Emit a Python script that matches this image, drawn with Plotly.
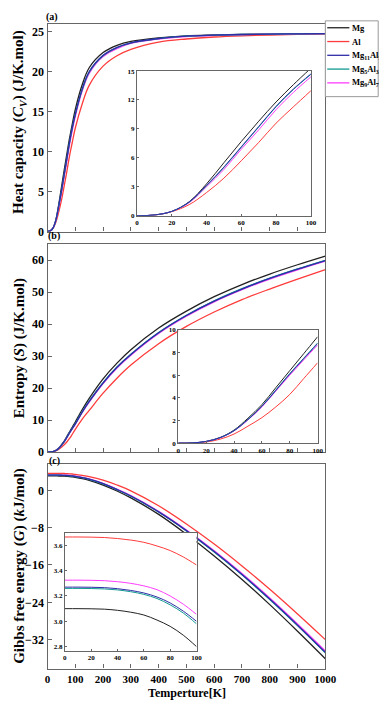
import plotly.graph_objects as go

# ---------------- data ----------------
T = [0, 10, 20, 30, 40, 50, 60, 70, 80, 90, 100, 125, 150, 200, 250, 300, 400, 500, 600, 700, 800, 900, 1000]

series_names = ["Mg", "Al", "Mg<sub>11</sub>Al<sub>5</sub>", "Mg<sub>5</sub>Al<sub>3</sub>", "Mg<sub>9</sub>Al<sub>7</sub>"]
series_colors = ["#222222", "#ff3b3b", "#2e2ea8", "#119a90", "#ff3dff"]

cv_mg = [0, 0.08, 0.45, 1.45, 3.3, 5.5, 7.7, 9.8, 11.8, 13.6, 15.3, 18.4, 20.5, 22.4, 23.3, 23.8, 24.25, 24.5, 24.6, 24.68, 24.72, 24.75, 24.78]
cv_al = [0, 0.07, 0.42, 1.15, 2.4, 3.9, 5.7, 7.6, 9.6, 11.3, 12.96, 16.0, 18.3, 20.7, 22.0, 22.8, 23.7, 24.1, 24.35, 24.5, 24.6, 24.68, 24.75]
cv_mg11al5 = [0, 0.08, 0.45, 1.42, 3.15, 5.05, 7.15, 9.25, 11.35, 13.15, 14.7, 17.85, 20.0, 22.05, 23.05, 23.62, 24.16, 24.46, 24.58, 24.66, 24.71, 24.74, 24.77]
cv_mg5al3 = [0, 0.08, 0.45, 1.4, 3.1, 5.0, 7.1, 9.2, 11.3, 13.1, 14.66, 17.8, 19.95, 22.0, 23.0, 23.6, 24.15, 24.45, 24.58, 24.66, 24.71, 24.74, 24.77]
cv_mg9al7 = [0, 0.08, 0.45, 1.35, 3.0, 4.8, 6.9, 8.9, 11.0, 12.8, 14.4, 17.6, 19.8, 21.9, 22.9, 23.55, 24.1, 24.4, 24.55, 24.64, 24.7, 24.73, 24.77]

s_mg = [0, 0.02, 0.15, 0.5, 1.15, 2.2, 3.4, 4.9, 6.4, 7.9, 9.4, 13.3, 16.8, 22.9, 27.8, 32.0, 38.8, 44.1, 48.6, 52.4, 55.7, 58.6, 61.3]
s_al = [0, 0.02, 0.1, 0.35, 0.8, 1.5, 2.25, 3.2, 4.3, 5.7, 7.1, 10.3, 13.0, 18.4, 23.1, 27.2, 33.9, 39.3, 43.8, 47.7, 51.0, 54.1, 57.1]
s_mg11al5 = [0, 0.02, 0.15, 0.48, 1.1, 2.08, 3.24, 4.65, 6.1, 7.45, 8.8, 12.5, 15.8, 21.6, 26.5, 30.5, 37.3, 42.7, 47.2, 51.0, 54.3, 57.2, 59.9]
s_mg5al3 = [0, 0.02, 0.15, 0.48, 1.1, 2.1, 3.27, 4.7, 6.15, 7.5, 8.85, 12.6, 15.9, 21.7, 26.6, 30.6, 37.4, 42.8, 47.3, 51.1, 54.4, 57.3, 60.0]
s_mg9al7 = [0, 0.02, 0.15, 0.47, 1.08, 2.05, 3.2, 4.6, 6.0, 7.35, 8.67, 12.35, 15.6, 21.4, 26.3, 30.3, 37.1, 42.5, 47.0, 50.8, 54.1, 57.0, 59.7]

g_mg = [3.10, 3.10, 3.099, 3.096, 3.087, 3.072, 3.05, 3.01, 2.96, 2.89, 2.80, 2.52, 2.14, 1.14, -0.13, -1.62, -5.15, -9.4, -14.05, -19.1, -24.5, -30.2, -36.1]
g_al = [3.666, 3.666, 3.665, 3.662, 3.654, 3.642, 3.624, 3.595, 3.559, 3.508, 3.445, 3.22, 2.95, 2.2, 1.15, -0.1, -3.3, -7.2, -11.5, -16.2, -21.2, -26.5, -32.0]
g_mg11al5 = [3.27, 3.27, 3.269, 3.266, 3.258, 3.244, 3.224, 3.192, 3.145, 3.08, 3.00, 2.74, 2.39, 1.43, 0.18, -1.21, -4.6, -8.63, -13.12, -18.02, -23.3, -28.9, -34.72]
g_mg5al3 = [3.26, 3.26, 3.259, 3.256, 3.248, 3.234, 3.213, 3.18, 3.13, 3.065, 2.98, 2.72, 2.37, 1.40, 0.15, -1.25, -4.65, -8.7, -13.2, -18.1, -23.4, -29.0, -34.85]
g_mg9al7 = [3.325, 3.325, 3.324, 3.321, 3.313, 3.30, 3.28, 3.25, 3.20, 3.135, 3.055, 2.80, 2.45, 1.49, 0.25, -1.13, -4.5, -8.5, -12.95, -17.82, -23.08, -28.65, -34.45]

cv_all = [cv_mg, cv_al, cv_mg11al5, cv_mg5al3, cv_mg9al7]
s_all = [s_mg, s_al, s_mg11al5, s_mg5al3, s_mg9al7]
g_all = [g_mg, g_al, g_mg11al5, g_mg5al3, g_mg9al7]

N_INSET = 11  # points with T <= 100

# ---------------- figure ----------------
W, H = 387, 701
FONT = "Liberation Serif"
AXC = "#666666"

def px_x(a, b):
    return [a / W, b / W]

def px_y(top, bottom):
    return [1 - bottom / H, 1 - top / H]

fig = go.Figure()

panels = [
    (cv_all, "x", "y", "x2", "y2"),
    (s_all, "x3", "y3", "x4", "y4"),
    (g_all, "x5", "y5", "x6", "y6"),
]

order = [0, 1, 4, 3, 2]  # drawing order (blue on top)
for p, (data, xm, ym, xi, yi) in enumerate(panels):
    for k in order:
        fig.add_trace(go.Scatter(
            x=T, y=data[k], xaxis=xm, yaxis=ym, mode="lines",
            line=dict(color=series_colors[k], width=1.3, shape="spline"),
            name=series_names[k], showlegend=False,
        ))
        fig.add_trace(go.Scatter(
            x=T[:N_INSET], y=data[k][:N_INSET], xaxis=xi, yaxis=yi, mode="lines",
            line=dict(color=series_colors[k], width=1.0, shape="spline"),
            name=series_names[k], showlegend=False,
        ))

main_x = px_x(38, 327)
tickfont_main = dict(family=FONT, size=12, color="#000", weight="bold")
tickfont_xb = dict(family=FONT, size=11, color="#000", weight="bold")
tickfont_in = dict(family=FONT, size=7, color="#000", weight="bold")

def main_xaxis(anchor, labels):
    return dict(domain=main_x, anchor=anchor, range=[0, 1000], tickvals=list(range(0, 1001, 100)),
                showticklabels=labels, ticks="inside", ticklen=4, tickcolor=AXC,
                showline=True, linecolor=AXC, linewidth=1.4, mirror=True, showgrid=False,
                zeroline=False, tickfont=tickfont_xb)

def main_yaxis(anchor, dom, rng, tv):
    return dict(domain=dom, anchor=anchor, range=rng, tickvals=tv, ticks="inside", ticklen=4,
                tickcolor=AXC, showline=True, linecolor=AXC, linewidth=1.4, mirror=True,
                showgrid=False, zeroline=False, tickfont=tickfont_main)

def in_xaxis(anchor, dom):
    return dict(domain=dom, anchor=anchor, range=[0, 100], tickvals=list(range(0, 101, 20)),
                ticks="inside", ticklen=2, tickcolor=AXC, showline=True, linecolor=AXC,
                linewidth=1, mirror=True, showgrid=False, zeroline=False, tickfont=tickfont_in)

def in_yaxis(anchor, dom, rng, tv, fmt=None):
    d = dict(domain=dom, anchor=anchor, range=rng, tickvals=tv, ticks="inside", ticklen=2,
             tickcolor=AXC, showline=True, linecolor=AXC, linewidth=1, mirror=True,
             showgrid=False, zeroline=False, tickfont=tickfont_in)
    if fmt:
        d["tickformat"] = fmt
    return d

fig.update_layout(
    width=W, height=H, margin=dict(l=0, r=0, t=0, b=0),
    paper_bgcolor="white", plot_bgcolor="white",
    font=dict(family=FONT, color="#000"),
    showlegend=False,
    xaxis=main_xaxis("y", False),
    yaxis=main_yaxis("x", px_y(12, 223), [0, 26], [0, 5, 10, 15, 20, 25]),
    xaxis2=in_xaxis("y2", px_x(131, 312)),
    yaxis2=in_yaxis("x2", px_y(60, 207), [0, 15], [0, 3, 6, 9, 12, 15]),
    xaxis3=main_xaxis("y3", False),
    yaxis3=main_yaxis("x3", px_y(236, 447), [0, 65], [0, 10, 20, 30, 40, 50, 60]),
    xaxis4=in_xaxis("y4", px_x(174, 319)),
    yaxis4=in_yaxis("x4", px_y(323, 438), [0, 10], [0, 2, 4, 6, 8, 10]),
    xaxis5=main_xaxis("y5", True),
    yaxis5=main_yaxis("x5", px_y(459, 667), [-38.2, 5.7], [0, -8, -16, -24, -32]),
    xaxis6=in_xaxis("y6", px_x(56, 193)),
    yaxis6=in_yaxis("x6", px_y(529, 649), [2.767, 3.70], [2.8, 3.0, 3.2, 3.4, 3.6], ".1f"),
)

bold = lambda s: "<b>" + s + "</b>"
ann = []
shapes = []
ytitles = [
    ("Heat capacity (<i>C<sub>V</sub></i>) (J/K.mol)", 112),
    ("Entropy (<i>S</i>) (J/K.mol)", 342),
    ("Gibbs free energy (<i>G</i>) (<i>k</i>J/mol)", 563),
]
for txt, yc in ytitles:
    ann.append(dict(text=bold(txt), x=9 / W, y=1 - yc / H, xref="paper", yref="paper",
                    xanchor="center", yanchor="middle", textangle=-90, showarrow=False,
                    font=dict(family=FONT, size=15, color="#000")))
ann.append(dict(text=bold("Temperture[K]"), x=183 / W, y=1 - 701 / H, xref="paper", yref="paper",
                xanchor="center", yanchor="bottom", showarrow=False,
                font=dict(family=FONT, size=12, color="#000")))
for lab, xx, yy in [("(a)", 43, 5), ("(b)", 45, 228), ("(c)", 45, 456)]:
    ann.append(dict(text=bold(lab), x=xx / W, y=1 - yy / H, xref="paper", yref="paper",
                    xanchor="center", yanchor="middle", showarrow=False,
                    font=dict(family=FONT, size=10, color="#000")))

# legend drawn by hand (box, sample lines, labels)
shapes.append(dict(type="rect", xref="paper", yref="paper",
                   x0=327 / W, x1=382 / W, y0=1 - 86 / H, y1=1 - 9 / H,
                   line=dict(color="#999999", width=1), fillcolor="white", layer="above"))
row_y = [16, 30, 44, 58, 72]
for k in range(5):
    yy = 1 - row_y[k] / H
    shapes.append(dict(type="line", xref="paper", yref="paper",
                       x0=329 / W, x1=352 / W, y0=yy, y1=yy,
                       line=dict(color=series_colors[k], width=1.3), layer="above"))
    ann.append(dict(text=bold(series_names[k]), x=353 / W, y=yy, xref="paper", yref="paper",
                    xanchor="left", yanchor="middle", showarrow=False,
                    font=dict(family=FONT, size=8.5, color="#000")))

fig.update_layout(annotations=ann, shapes=shapes)

fig.write_html("out.html")
